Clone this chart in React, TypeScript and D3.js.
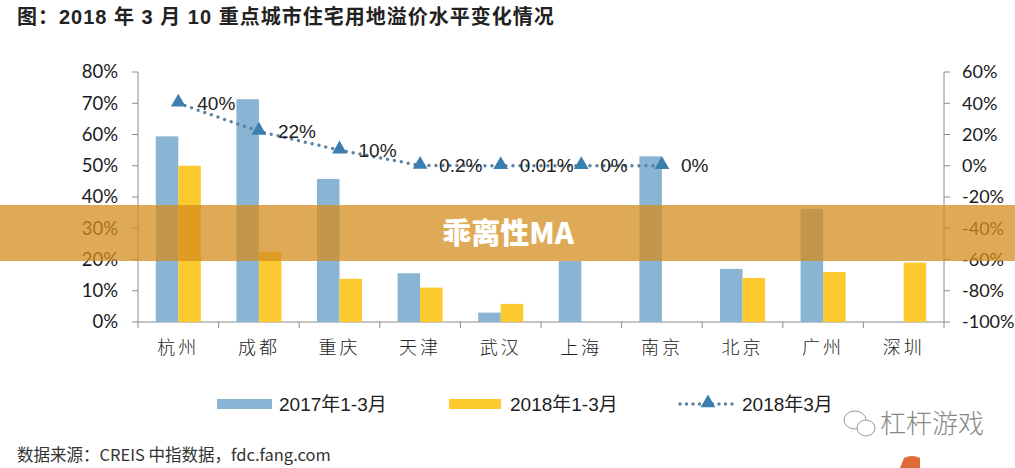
import React, { useEffect, useRef } from 'react';
import * as d3 from 'd3';

const cities = ['杭州', '成都', '重庆', '天津', '武汉', '上海', '南京', '北京', '广州', '深圳'];
const bars2017 = [59.4, 71.3, 45.8, 15.6, 3, 19.5, 53, 17, 36.2, null];
const bars2018 = [50, 22.4, 13.8, 11, 5.8, null, null, 14.1, 16, 19];
const premium2018Mar = [40, 22, 10, 0.2, 0.01, 0, 0];
const premiumLabels = ['40%', '22%', '10%', '0.2%', '0.01%', '0%', '0%'];
const leftTicks = [0, 10, 20, 30, 40, 50, 60, 70, 80];
const rightTicks = [-100, -80, -60, -40, -20, 0, 20, 40, 60];
const legendNames = ['2017年1-3月', '2018年1-3月', '2018年3月'];

const W = 1015, H = 468;
const BLUE = '#8ab4d3', YELLOW = '#fcc92e', TRI = '#3a7fb0', DOT = '#5b84a3', AXIS = '#8c8c8c';

export default function App() {
  const ref = useRef<SVGSVGElement>(null);

  useEffect(() => {
    const svg = d3.select(ref.current);
    svg.selectAll('*').remove();

    const left = 138, right = 944, top = 72, bottom = 322;
    const x = d3.scaleBand().domain(cities).range([left, right]);
    const yL = d3.scaleLinear().domain([0, 80]).range([bottom, top]);
    const yR = d3.scaleLinear().domain([-100, 60]).range([bottom, top]);
    const bw = 22.5;
    const tickFont = 'Lato, "Liberation Sans", sans-serif';

    // title
    svg.append('text').attr('x', 17).attr('y', 24)
      .attr('font-family', '"Liberation Sans", "Noto Sans CJK SC", sans-serif')
      .attr('font-weight', 'bold').attr('font-size', 20).attr('letter-spacing', 1).attr('fill', '#222')
      .text('图：2018 年 3 月 10 重点城市住宅用地溢价水平变化情况');

    // axes
    const g = svg.append('g');
    g.append('line').attr('x1', left).attr('x2', left).attr('y1', top).attr('y2', bottom).attr('stroke', AXIS);
    g.append('line').attr('x1', right).attr('x2', right).attr('y1', top).attr('y2', bottom).attr('stroke', AXIS);
    g.append('line').attr('x1', left).attr('x2', right).attr('y1', bottom).attr('y2', bottom).attr('stroke', AXIS);

    leftTicks.forEach(t => {
      g.append('line').attr('x1', left - 6).attr('x2', left).attr('y1', yL(t)).attr('y2', yL(t)).attr('stroke', AXIS);
      g.append('text').attr('x', left - 20).attr('y', yL(t)).attr('dy', '0.35em')
        .attr('text-anchor', 'end').attr('font-family', tickFont).attr('font-size', 18.5).attr('fill', '#1a1a1a')
        .text(t + '%');
    });
    rightTicks.forEach(t => {
      g.append('line').attr('x1', right).attr('x2', right + 6).attr('y1', yR(t)).attr('y2', yR(t)).attr('stroke', AXIS);
      g.append('text').attr('x', right + 18).attr('y', yR(t)).attr('dy', '0.35em')
        .attr('text-anchor', 'start').attr('font-family', tickFont).attr('font-size', 18).attr('fill', '#1a1a1a')
        .text(t + '%');
    });
    d3.range(cities.length + 1).forEach(i => {
      const xx = left + i * x.bandwidth();
      g.append('line').attr('x1', xx).attr('x2', xx).attr('y1', bottom).attr('y2', bottom + 6).attr('stroke', AXIS);
    });
    cities.forEach(c => {
      g.append('text').attr('x', x(c)! + x.bandwidth() / 2).attr('y', 348).attr('dy', '0.35em')
        .attr('text-anchor', 'middle').attr('font-family', '"Noto Sans CJK SC", sans-serif')
        .attr('font-weight', 300).attr('font-size', 18).attr('fill', '#222')
        .attr('letter-spacing', 3).text(c);
    });

    // bars
    cities.forEach((c, i) => {
      const cx = x(c)! + x.bandwidth() / 2;
      if (bars2017[i] != null) {
        g.append('rect').attr('x', cx - bw).attr('width', bw)
          .attr('y', yL(bars2017[i]!)).attr('height', bottom - yL(bars2017[i]!)).attr('fill', BLUE);
      }
      if (bars2018[i] != null) {
        g.append('rect').attr('x', cx).attr('width', bw)
          .attr('y', yL(bars2018[i]!)).attr('height', bottom - yL(bars2018[i]!)).attr('fill', YELLOW);
      }
    });

    // dotted line with triangles
    const pts = premium2018Mar.map((v, i) => [x(cities[i])! + x.bandwidth() / 2, yR(v)] as [number, number]);
    g.append('path').attr('d', d3.line()(pts)).attr('fill', 'none').attr('stroke', DOT)
      .attr('stroke-width', 3.5).attr('stroke-linecap', 'round').attr('stroke-dasharray', '0 7');
    const tri = d3.symbol().type(d3.symbolTriangle).size(95);
    pts.forEach((p, i) => {
      g.append('path').attr('d', tri()).attr('transform', `translate(${p[0]},${p[1] - 1})`).attr('fill', TRI);
      g.append('text').attr('x', p[0] + 19).attr('y', p[1]).attr('dy', '0.35em')
        .attr('font-family', '"Liberation Sans", Arial, sans-serif').attr('font-size', 19).attr('fill', '#222')
        .text(premiumLabels[i]);
    });

    // legend
    const lg = svg.append('g').attr('font-family', '"Liberation Sans", "Noto Sans CJK SC", sans-serif')
      .attr('font-size', 19).attr('fill', '#222');
    const ly = 404;
    lg.append('rect').attr('x', 217).attr('y', ly - 5).attr('width', 55).attr('height', 10).attr('fill', BLUE);
    lg.append('text').attr('x', 279).attr('y', ly).attr('dy', '0.35em').text(legendNames[0]);
    lg.append('rect').attr('x', 449).attr('y', ly - 5).attr('width', 52).attr('height', 10).attr('fill', YELLOW);
    lg.append('text').attr('x', 510).attr('y', ly).attr('dy', '0.35em').text(legendNames[1]);
    lg.append('line').attr('x1', 680).attr('x2', 736).attr('y1', ly).attr('y2', ly).attr('stroke', DOT)
      .attr('stroke-width', 3.5).attr('stroke-linecap', 'round').attr('stroke-dasharray', '0 6.5');
    lg.append('path').attr('d', tri()).attr('transform', `translate(708,${ly - 1})`).attr('fill', TRI);
    lg.append('text').attr('x', 742).attr('y', ly).attr('dy', '0.35em').text(legendNames[2]);

    // source
    svg.append('text').attr('x', 17).attr('y', 455).attr('dy', '0.35em')
      .attr('font-family', '"Liberation Sans Narrow", "Noto Sans CJK SC", sans-serif')
      .attr('font-size', 16.5).attr('fill', '#333')
      .text('数据来源：CREIS 中指数据，fdc.fang.com');

    // watermark
    const wm = svg.append('g').attr('stroke', '#999').attr('fill', 'none').attr('stroke-width', 1);
    wm.append('ellipse').attr('cx', 855).attr('cy', 420).attr('rx', 11).attr('ry', 9);
    wm.append('ellipse').attr('cx', 866).attr('cy', 428).attr('rx', 9).attr('ry', 8).attr('fill', '#fff');
    svg.append('text').attr('x', 880).attr('y', 424).attr('dy', '0.35em')
      .attr('font-family', '"Noto Sans CJK SC", sans-serif').attr('font-weight', 300)
      .attr('font-size', 26).attr('fill', '#888').text('杠杆游戏');
    svg.append('path').attr('d', 'M900,468 L904,458 Q912,454 920,458 L920,468 Z').attr('fill', '#e06a3a');

    // banner
    svg.append('rect').attr('x', 0).attr('y', 205).attr('width', W).attr('height', 56)
      .attr('fill', 'rgb(212,142,31)').attr('fill-opacity', 0.75);
    svg.append('text').attr('x', 508).attr('y', 234).attr('dy', '0.35em').attr('text-anchor', 'middle')
      .attr('font-family', '"Noto Sans CJK SC", sans-serif').attr('font-weight', 900)
      .attr('font-size', 29).attr('fill', '#fff').text('乖离性MA');
  }, []);

  return (
    <svg ref={ref} width={W} height={H} style={{ position: 'absolute', left: 0, top: 0, background: '#fff' }} />
  );
}
